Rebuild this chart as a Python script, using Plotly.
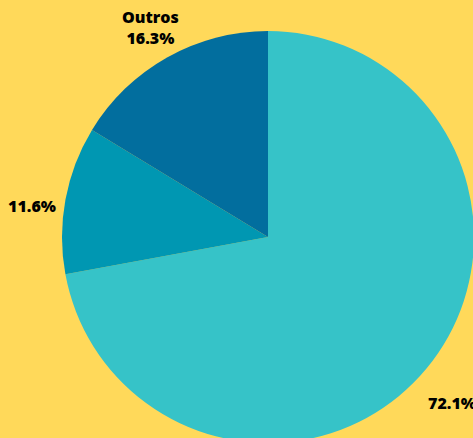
import math
import plotly.graph_objects as go

labels = ["Principal", "Segundo", "Outros"]
values = [72.1, 11.6, 16.3]
colors = ["#36C3C8", "#0097B2", "#026E9E"]
show_name = [False, False, True]

# pie center ~ (268, 237), radius ~206 in the 473x438 view; figure extends past the view
L, T, D = 62, 31, 412
W, H = L + D + 50, T + D + 50
LABEL_DIST = 240  # px from pie centre to label centre

fig = go.Figure(go.Pie(
    labels=labels,
    values=values,
    sort=False,
    direction="clockwise",
    rotation=0,
    marker=dict(colors=colors, line=dict(width=0)),
    textinfo="none",
    showlegend=False,
    hoverinfo="label+percent",
))

total = sum(values)
cum = 0.0
annotations = []
for lab, v, sn in zip(labels, values, show_name):
    mid = (cum + v / 2) / total * 2 * math.pi
    cum += v
    k = LABEL_DIST / D
    pct = f"{v / total * 100:.1f}%"
    annotations.append(dict(
        x=0.5 + k * math.sin(mid), y=0.5 + k * math.cos(mid),
        xref="paper", yref="paper", xanchor="center", yanchor="middle",
        yshift=0 if sn else -12,
        text=(f"{lab}<br>{pct}" if sn else pct), showarrow=False,
        font=dict(family="Open Sans", size=16, color="black", weight=800),
    ))

fig.update_layout(
    width=W, height=H,
    margin=dict(l=L, r=W - L - D, t=T, b=H - T - D, autoexpand=False),
    paper_bgcolor="#FFD95A",
    plot_bgcolor="#FFD95A",
    annotations=annotations,
)

fig.write_html(
    "out.html",
    config={"displayModeBar": False},
    post_script="document.body.style.margin='0';document.body.style.overflow='hidden';document.documentElement.style.overflow='hidden';document.body.style.background='#FFD95A';",
)
